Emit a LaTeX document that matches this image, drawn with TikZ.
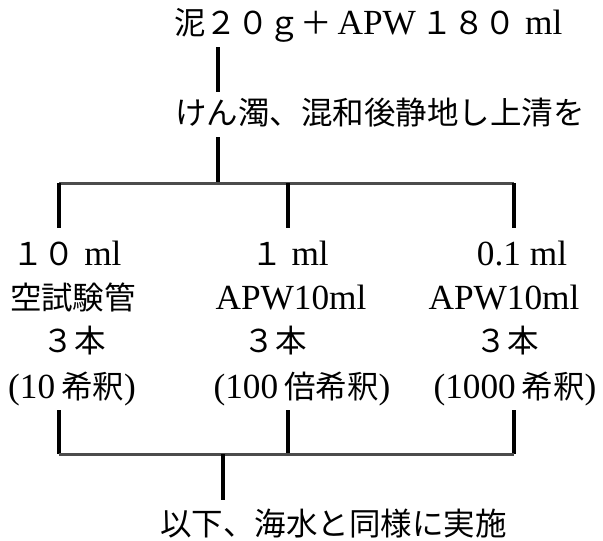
\documentclass[tikz,border=0pt]{standalone}
\usepackage{fontspec}
\setmainfont[Scale=1.12]{Liberation Serif}
\newfontfamily\jp{Noto Sans CJK JP}
\tikzset{
  lbl/.style={anchor=base west, inner sep=0pt, font=\fontsize{31.5}{31.5}\selectfont},
  clbl/.style={anchor=base, inner sep=0pt, font=\fontsize{31.5}{31.5}\selectfont},
  vconn/.style={line width=3.2pt, black},
  hconn/.style={line width=3pt, black!70},
}
\begin{document}
\begin{tikzpicture}[x=1pt,y=-1pt]
\useasboundingbox[fill=white] (0,0) rectangle (603,541);
% texts
\node[lbl] (top) at (174,34) {{\jp 泥２０ｇ＋}\,APW\,{\jp １８０} ml};
\node[lbl] (mid) at (175,124) {\jp けん濁、混和後静地し上清を};
% column 1
\node[clbl] (c1a) at (67,265) {{\jp １０} ml};
\node[clbl] (c1b) at (73,309) {\jp 空試験管};
\node[clbl] (c1c) at (74,352) {\jp ３本};
\node[clbl] (c1d) at (72,398) {(10\,{\jp 希釈})};
% column 2
\node[clbl] (c2a) at (290,265) {{\jp １} ml};
\node[clbl] (c2b) at (291,309) {APW10ml};
\node[clbl] (c2c) at (275,352) {\jp ３本};
\node[clbl] (c2d) at (302,398) {(100\,{\jp 倍希釈})};
% column 3
\node[clbl] (c3a) at (522,265) {0.1 ml};
\node[clbl] (c3b) at (504,309) {APW10ml};
\node[clbl] (c3c) at (507,352) {\jp ３本};
\node[clbl] (c3d) at (515,398) {(1000\,{\jp 希釈})};
% bottom
\node[lbl] (bot) at (160,535) {\jp 以下、海水と同様に実施};
% junction coordinates
\coordinate (t1) at (218,47);
\coordinate (t2) at (218,92);
\coordinate (t3) at (218,137);
\coordinate (ja) at (218,183);
\coordinate (jL) at (59,183);
\coordinate (jM) at (288,183);
\coordinate (jR) at (514,183);
\coordinate (dL) at (59,228);
\coordinate (dM) at (288,228);
\coordinate (dR) at (514,228);
\coordinate (uL) at (59,410);
\coordinate (uM) at (288,410);
\coordinate (uR) at (514,410);
\coordinate (kL) at (59,454);
\coordinate (kM) at (288,454);
\coordinate (kR) at (514,454);
\coordinate (kb) at (223,454);
\coordinate (b1) at (223,500);
% connectors
\draw[vconn] (t1) -- (t2);
\draw[vconn] (t3) -- (ja);
\draw[hconn] (jL) -- (jR);
\draw[vconn] (jL) -- (dL);
\draw[vconn] (jM) -- (dM);
\draw[vconn] (jR) -- (dR);
\draw[vconn] (uL) -- (kL);
\draw[vconn] (uM) -- (kM);
\draw[vconn] (uR) -- (kR);
\draw[hconn] (kL) -- (kR);
\draw[vconn] (kb) -- (b1);
\end{tikzpicture}
\end{document}
